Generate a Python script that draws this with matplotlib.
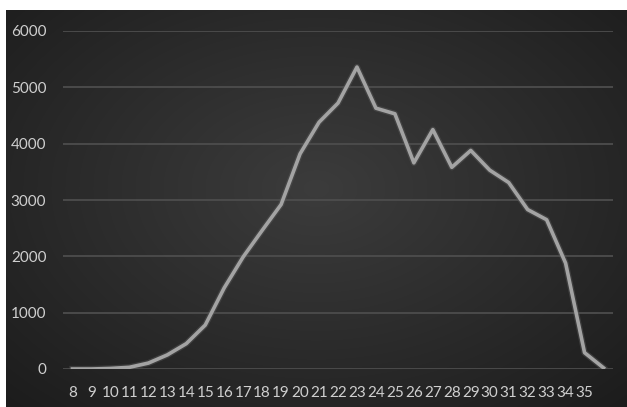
import numpy as np
import matplotlib
matplotlib.use("Agg")
import matplotlib.pyplot as plt

# categories 8..36 (last one has no label in the original)
labels = [str(v) for v in range(8, 36)] + [""]
values = [0, 0, 10, 30, 105, 250, 450, 780, 1440, 1990, 2460, 2920,
          3820, 4380, 4720, 5360, 4630, 4530, 3660, 4250, 3580, 3880,
          3530, 3310, 2830, 2650, 1880, 290, 20]

plt.rcParams['font.family'] = ['Lato', 'DejaVu Sans']

fig = plt.figure(figsize=(6.27, 4.07), dpi=100)
fig.patch.set_facecolor('white')

# dark radial gradient background like the Excel style
bg = fig.add_axes([6 / 627, 0, 621 / 627, 397 / 407])
bg.axis('off')
yy, xx = np.mgrid[0:1:200j, 0:1:300j]
r = np.sqrt(((xx - 0.5) / 0.75) ** 2 + ((yy - 0.45) / 0.8) ** 2)
shade = np.clip(0.235 - 0.13 * r, 0.1, 0.25)
img = np.dstack([shade, shade, shade])
bg.imshow(img, aspect='auto', extent=[0, 1, 0, 1], interpolation='bilinear')

ax = fig.add_axes([63 / 627, (407 - 369) / 407, 550 / 627, 338 / 407])
ax.patch.set_alpha(0)
x = np.arange(len(values))
ax.plot(x, values, color='#555555', lw=4.5, alpha=0.5, solid_joinstyle='round', zorder=2)
ax.plot(x, values, color='#a3a3a3', lw=2.6, solid_joinstyle='round', zorder=3)

ax.set_xlim(-0.5, len(values) - 0.5)
ax.set_ylim(0, 6000)
ax.set_yticks(range(0, 6001, 1000))
ax.set_xticks(x)
ax.set_xticklabels(labels)
ax.grid(axis='y', color='#4d4d4d', lw=1.3)
ax.set_axisbelow(True)
for s in ax.spines.values():
    s.set_visible(False)
ax.tick_params(axis='both', length=0, colors='#cfcfcf', labelsize=11)
ax.tick_params(axis='y', pad=12)
ax.tick_params(axis='x', pad=12)

fig.savefig('out.png', dpi=100)
